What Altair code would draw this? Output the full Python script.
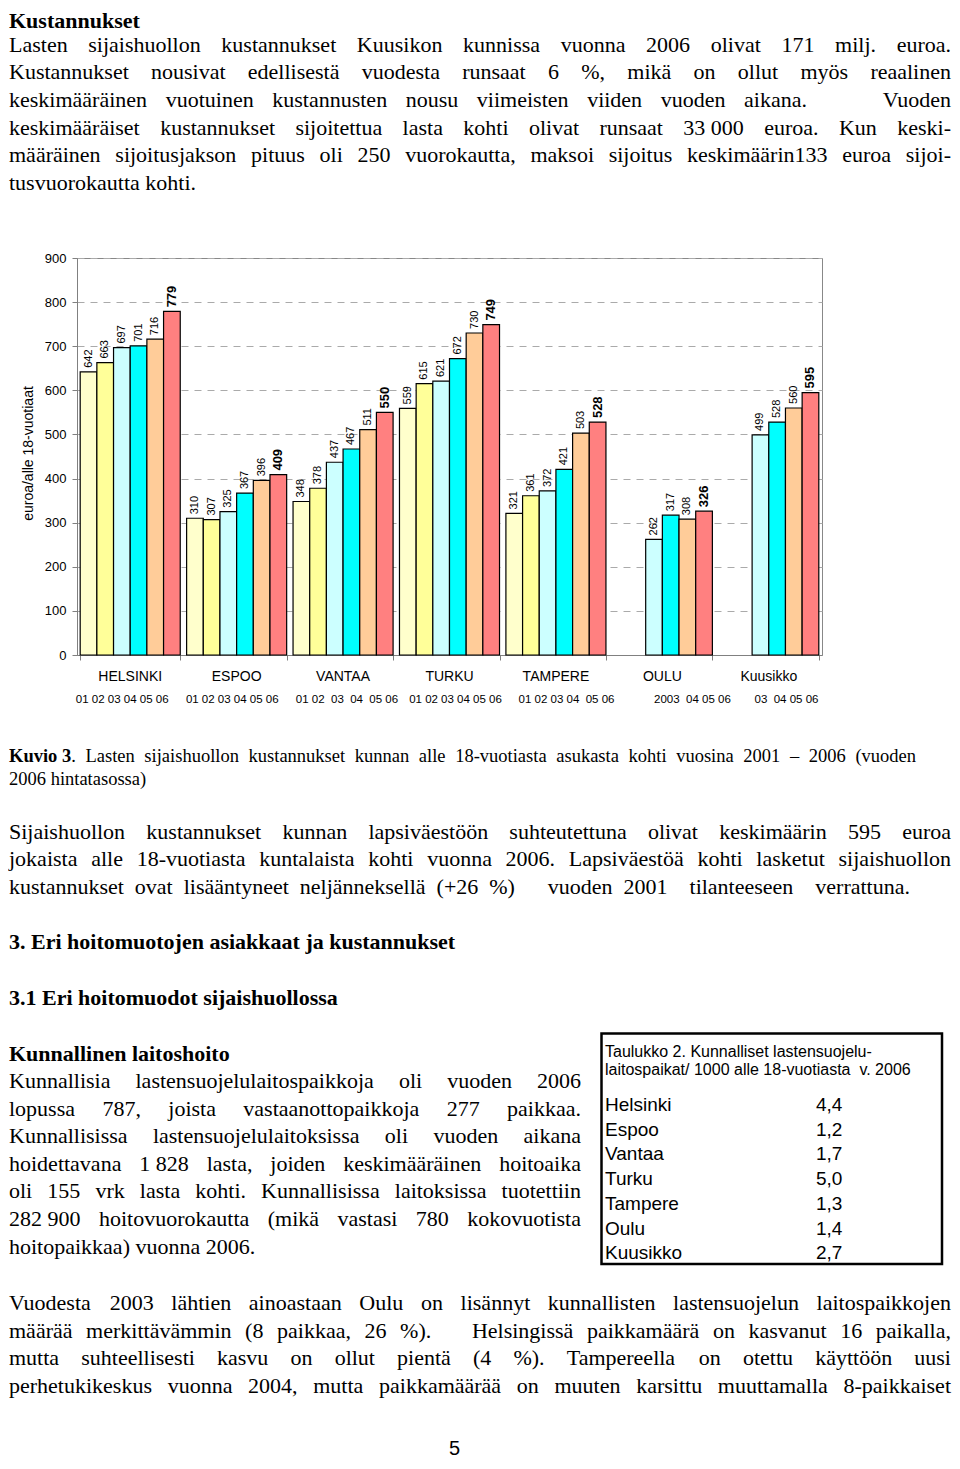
import re
import pandas as pd
import altair as alt

# ---------------- chart data ----------------
cities = ["HELSINKI", "ESPOO", "VANTAA", "TURKU", "TAMPERE", "OULU", "Kuusikko"]
years = ["01", "02", "03", "04", "05", "06"]
helsinki = [642, 663, 697, 701, 716, 779]
espoo = [310, 307, 325, 367, 396, 409]
vantaa = [348, 378, 437, 467, 511, 550]
turku = [559, 615, 621, 672, 730, 749]
tampere = [321, 361, 372, 421, 503, 528]
oulu = [None, None, 262, 317, 308, 326]
kuusikko = [None, None, 499, 528, 560, 595]
year_labels = ["01 02 03 04 05 06", "01 02 03 04 05 06", "01 02  03  04  05 06",
               "01 02 03 04 05 06", "01 02 03 04  05 06", "2003  04 05 06", "03  04 05 06"]
year_colors = ["#FFFFCC", "#FFFF99", "#CCFFFF", "#00FFFF", "#FFCC99", "#FF8080"]
y_title = "euroa/alle 18-vuotiaat"

table_title = ["Taulukko 2. Kunnalliset lastensuojelu-",
               "laitospaikat/ 1000 alle 18-vuotiasta\u00a0 v. 2006"]
table_places = ["Helsinki", "Espoo", "Vantaa", "Turku", "Tampere", "Oulu", "Kuusikko"]
table_values = [4.4, 1.2, 1.7, 5.0, 1.3, 1.4, 2.7]

# ---------------- page text ----------------
top_heading = "Kustannukset"
top_para = [
    "Lasten sijaishuollon kustannukset Kuusikon kunnissa vuonna 2006 olivat 171 milj. euroa.",
    "Kustannukset nousivat edellisestä vuodesta runsaat 6 %, mikä on ollut myös reaalinen",
    "keskimääräinen vuotuinen kustannusten nousu viimeisten viiden vuoden aikana.    Vuoden",
    "keskimääräiset kustannukset sijoitettua lasta kohti olivat runsaat 33\u00a0000 euroa. Kun keski-",
    "määräinen sijoitusjakson pituus oli 250 vuorokautta, maksoi sijoitus keskimäärin133 euroa sijoi-",
    "tusvuorokautta kohti.",
]
caption_bold = "Kuvio 3"
caption_1 = ". Lasten sijaishuollon kustannukset kunnan alle 18-vuotiasta asukasta kohti vuosina 2001 – 2006 (vuoden"
caption_2 = "2006 hintatasossa)"
para2 = [
    "Sijaishuollon kustannukset kunnan lapsiväestöön suhteutettuna olivat keskimäärin 595 euroa",
    "jokaista alle 18-vuotiasta kuntalaista kohti vuonna 2006. Lapsiväestöä kohti lasketut sijaishuollon",
    "kustannukset ovat lisääntyneet neljänneksellä (+26 %)   vuoden 2001  tilanteeseen  verrattuna.",
]
heading3 = "3. Eri hoitomuotojen asiakkaat ja kustannukset"
heading31 = "3.1 Eri hoitomuodot sijaishuollossa"
heading_k = "Kunnallinen laitoshoito"
left_para = [
    "Kunnallisia lastensuojelulaitospaikkoja oli vuoden 2006",
    "lopussa 787, joista vastaanottopaikkoja 277 paikkaa.",
    "Kunnallisissa lastensuojelulaitoksissa oli vuoden aikana",
    "hoidettavana 1\u00a0828 lasta, joiden keskimääräinen hoitoaika",
    "oli 155 vrk lasta kohti. Kunnallisissa laitoksissa tuotettiin",
    "282\u00a0900 hoitovuorokautta (mikä vastasi 780 kokovuotista",
    "hoitopaikkaa) vuonna 2006.",
]
bottom_para = [
    "Vuodesta 2003 lähtien ainoastaan Oulu on lisännyt kunnallisten lastensuojelun laitospaikkojen",
    "määrää merkittävämmin (8 paikkaa, 26 %).   Helsingissä paikkamäärä on kasvanut 16 paikalla,",
    "mutta suhteellisesti kasvu on ollut pientä (4 %). Tampereella on otettu käyttöön uusi",
    "perhetukikeskus vuonna 2004, mutta paikkamäärää on muuten karsittu muuttamalla 8-paikkaiset",
]
page_number = "5"

# ---------------- font metrics (Times / Liberation Serif, per 1000 em) ----------------
TR, TB = {}, {}
for ch, w in zip("abcdefghijklmnopqrstuvwxyz",
                 [444, 500, 444, 500, 444, 333, 500, 500, 278, 278, 500, 278, 778, 500, 500, 500, 500, 333, 389, 278, 500, 500, 722, 500, 500, 444]):
    TR[ch] = w
for ch, w in zip("ABCDEFGHIJKLMNOPQRSTUVWXYZ",
                 [722, 667, 667, 722, 611, 556, 722, 722, 333, 389, 722, 611, 889, 722, 722, 556, 722, 667, 556, 611, 722, 722, 944, 722, 722, 611]):
    TR[ch] = w
for ch, w in zip("abcdefghijklmnopqrstuvwxyz",
                 [500, 556, 444, 556, 444, 333, 500, 556, 278, 333, 556, 278, 833, 556, 500, 556, 556, 444, 389, 333, 556, 500, 722, 500, 500, 444]):
    TB[ch] = w
for ch, w in zip("ABCDEFGHIJKLMNOPQRSTUVWXYZ",
                 [722, 667, 722, 722, 667, 611, 778, 778, 389, 500, 778, 667, 944, 722, 778, 611, 778, 722, 556, 667, 722, 722, 1000, 722, 722, 667]):
    TB[ch] = w
for d in "0123456789":
    TR[d] = 500
    TB[d] = 500
TR.update({' ': 250, '\u00a0': 250, '.': 250, ',': 250, '%': 833, '(': 333, ')': 333, '+': 564,
           '-': 333, '–': 500, '/': 278, ':': 278, 'ä': 444, 'ö': 500, 'Ä': 722, 'Ö': 722})
TB.update({' ': 250, '\u00a0': 250, '.': 250, ',': 250, '%': 1000, '(': 333, ')': 333, '-': 333,
           'ä': 500, 'ö': 500})


def tw(s, bold, size):
    t = TB if bold else TR
    return sum(t.get(c, 500) for c in s) / 1000.0 * size


# ---------------- layout ----------------
OX, OY = 77, 258          # page position of the plot area
L, R = 9, 951             # text column edges
S = 22                    # body font size
rows = []


def place(text, y, x0, x1=None, size=S, bold=False):
    parts = re.split(r'( +)', text)
    words = parts[0::2]
    gaps = [len(g) for g in parts[1::2]]
    sp = tw(' ', bold, size)
    nat = sum(tw(w, bold, size) for w in words) + sum(gaps) * sp
    justify = x1 is not None and sum(gaps) > 0
    extra = (x1 - x0 - nat) / sum(gaps) if justify else 0.0
    x = x0
    for i, w in enumerate(words):
        last = justify and i == len(words) - 1
        rows.append(dict(text=w, px=(x1 if last else x) - OX, py=y - OY, fs=size,
                         kind=('b' if bold else 'r') + ('R' if last else 'L')))
        x += tw(w, bold, size)
        if i < len(gaps):
            x += gaps[i] * (sp + extra)


place(top_heading, 27.6, L, bold=True)
for i, (line, y) in enumerate(zip(top_para, [51.5, 79.2, 107, 134.8, 162.2, 189.8])):
    place(line, y, L, R if i < len(top_para) - 1 else None)

cap_em = tw(caption_bold, True, 1) + tw(caption_1, False, 1)
C = round(0.92 * (918 - 5) / cap_em, 1)
place(caption_bold, 761.5, L, size=C, bold=True)
place(caption_1, 761.5, L + tw(caption_bold, True, C), 916, size=C)
place(caption_2, 785, L, size=C)

for line, y, x1 in zip(para2, [838.5, 866, 893.5], [R, R, 910]):
    place(line, y, L, x1)
place(heading3, 948.5, L, bold=True)
place(heading31, 1005, L, bold=True)
place(heading_k, 1060.5, L, bold=True)
for i, (line, y) in enumerate(zip(left_para, [1088, 1115.5, 1143, 1170.5, 1198, 1225.5, 1253.5])):
    place(line, y, L, 581 if i < len(left_para) - 1 else None)
for line, y in zip(bottom_para, [1310, 1337.5, 1365, 1392.5]):
    place(line, y, L, R)

words = pd.DataFrame(rows)

sans_rows = [dict(text=table_title[0], px=605 - OX, py=1056.5 - OY, fs=16),
             dict(text=table_title[1], px=605 - OX, py=1075 - OY, fs=16)]
for i, (p, v) in enumerate(zip(table_places, table_values)):
    y = 1111 + 24.7 * i
    sans_rows.append(dict(text=p, px=605 - OX, py=y - OY, fs=19))
    sans_rows.append(dict(text=f"{v:.1f}".replace(".", ","), px=816 - OX, py=y - OY, fs=19))
sans_rows.append(dict(text=page_number, px=449 - OX, py=1455 - OY, fs=20))
sans = pd.DataFrame(sans_rows)

# ---------------- bar data table ----------------
series = [helsinki, espoo, vantaa, turku, tampere, oulu, kuusikko]
recs = []
for c, vals in zip(cities, series):
    for yr, v in zip(years, vals):
        if v is not None:
            recs.append(dict(city=c, year=yr, value=v))
df = pd.DataFrame(recs)

SANS = "Liberation Sans"
X_ENC = alt.X("city:N",
              scale=alt.Scale(domain=cities, paddingInner=0.06, paddingOuter=0.03),
              axis=alt.Axis(labels=False, title=None, ticks=True, tickBand="extent", tickSize=5,
                            tickColor="#808080", domainColor="#808080", grid=False))
XO_ENC = alt.XOffset("year:N", scale=alt.Scale(domain=years, paddingInner=0, paddingOuter=0))
Y_ENC = alt.Y("value:Q", scale=alt.Scale(domain=[0, 900], nice=False),
              axis=alt.Axis(values=list(range(0, 1000, 100)), title=None, labelFontSize=13,
                            labelFont=SANS, labelColor="black", tickSize=5, tickColor="#808080",
                            domainColor="#808080", labelPadding=6, grid=True, gridDash=[7, 6],
                            gridColor="#aaaaaa"))

bars = alt.Chart(df).mark_bar(stroke="black", strokeWidth=1.2).encode(
    x=X_ENC, xOffset=XO_ENC, y=Y_ENC,
    color=alt.Color("year:N", scale=alt.Scale(domain=years, range=year_colors), legend=None))

vals_norm = alt.Chart(df[df.year != "06"]).mark_text(
    angle=270, align="left", baseline="middle", dx=4, font=SANS, fontSize=11, color="black"
).encode(x=X_ENC, xOffset=XO_ENC, y=Y_ENC, text="value:Q")
vals_bold = alt.Chart(df[df.year == "06"]).mark_text(
    angle=270, align="left", baseline="middle", dx=4, font=SANS, fontSize=13, fontWeight="bold",
    color="black"
).encode(x=X_ENC, xOffset=XO_ENC, y=Y_ENC, text="value:Q")

city_lbl = alt.Chart(pd.DataFrame({"city": cities})).mark_text(
    align="center", baseline="alphabetic", font=SANS, fontSize=14, color="black"
).encode(x=X_ENC, y=alt.value(680.5 - OY), text="city:N")

year_dx = [-8.0, -4.4, 3.9, 6.0, 10.6, 30.1, 17.7]
year_layers = []
for c, lab, dx in zip(cities, year_labels, year_dx):
    year_layers.append(
        alt.Chart(pd.DataFrame({"city": [c], "lab": [lab.replace("  ", "\u00a0 ")]})).mark_text(
            align="center", baseline="alphabetic", font=SANS, fontSize=11.5, dx=dx, color="black"
        ).encode(x=X_ENC, y=alt.value(702.7 - OY), text="lab:N"))

ytitle = alt.Chart(pd.DataFrame({"t": [y_title]})).mark_text(
    angle=270, align="center", baseline="middle", font=SANS, fontSize=14, color="black"
).encode(x=alt.value(28.5 - OX), y=alt.value(453.5 - OY), text="t:N")


def text_layer(data, align, font, weight):
    return alt.Chart(data).mark_text(
        align=align, baseline="alphabetic", font=font, fontWeight=weight, color="black"
    ).encode(x=alt.X("px:Q", scale=None), y=alt.Y("py:Q", scale=None), text="text:N",
             size=alt.Size("fs:Q", scale=None))


SERIF = "Liberation Serif"
t_rl = text_layer(words[words.kind == "rL"], "left", SERIF, "normal")
t_rr = text_layer(words[words.kind == "rR"], "right", SERIF, "normal")
t_bl = text_layer(words[words.kind == "bL"], "left", SERIF, "bold")
t_sans = text_layer(sans, "left", SANS, "normal")

box = alt.Chart(pd.DataFrame({"a": [0]})).mark_rect(
    fillOpacity=0, stroke="black", strokeWidth=2.5
).encode(x=alt.value(601.5 - OX), x2=alt.value(942 - OX), y=alt.value(1033.5 - OY),
         y2=alt.value(1264 - OY))

layers = [bars, vals_norm, vals_bold, city_lbl] + year_layers + [ytitle, t_rl, t_rr, t_bl, t_sans, box]
if len(words[words.kind == "bR"]):
    layers.append(text_layer(words[words.kind == "bR"], "right", SERIF, "bold"))

chart = alt.layer(*layers).properties(
    width=745, height=397,
    padding={"left": 69, "top": 250, "right": 130, "bottom": 806},
    autosize=alt.AutoSizeParams(type="none"),
    background="white",
).configure_view(stroke="#888888", strokeWidth=1)

chart.save("out.html", embed_options={"renderer": "svg", "actions": False})
